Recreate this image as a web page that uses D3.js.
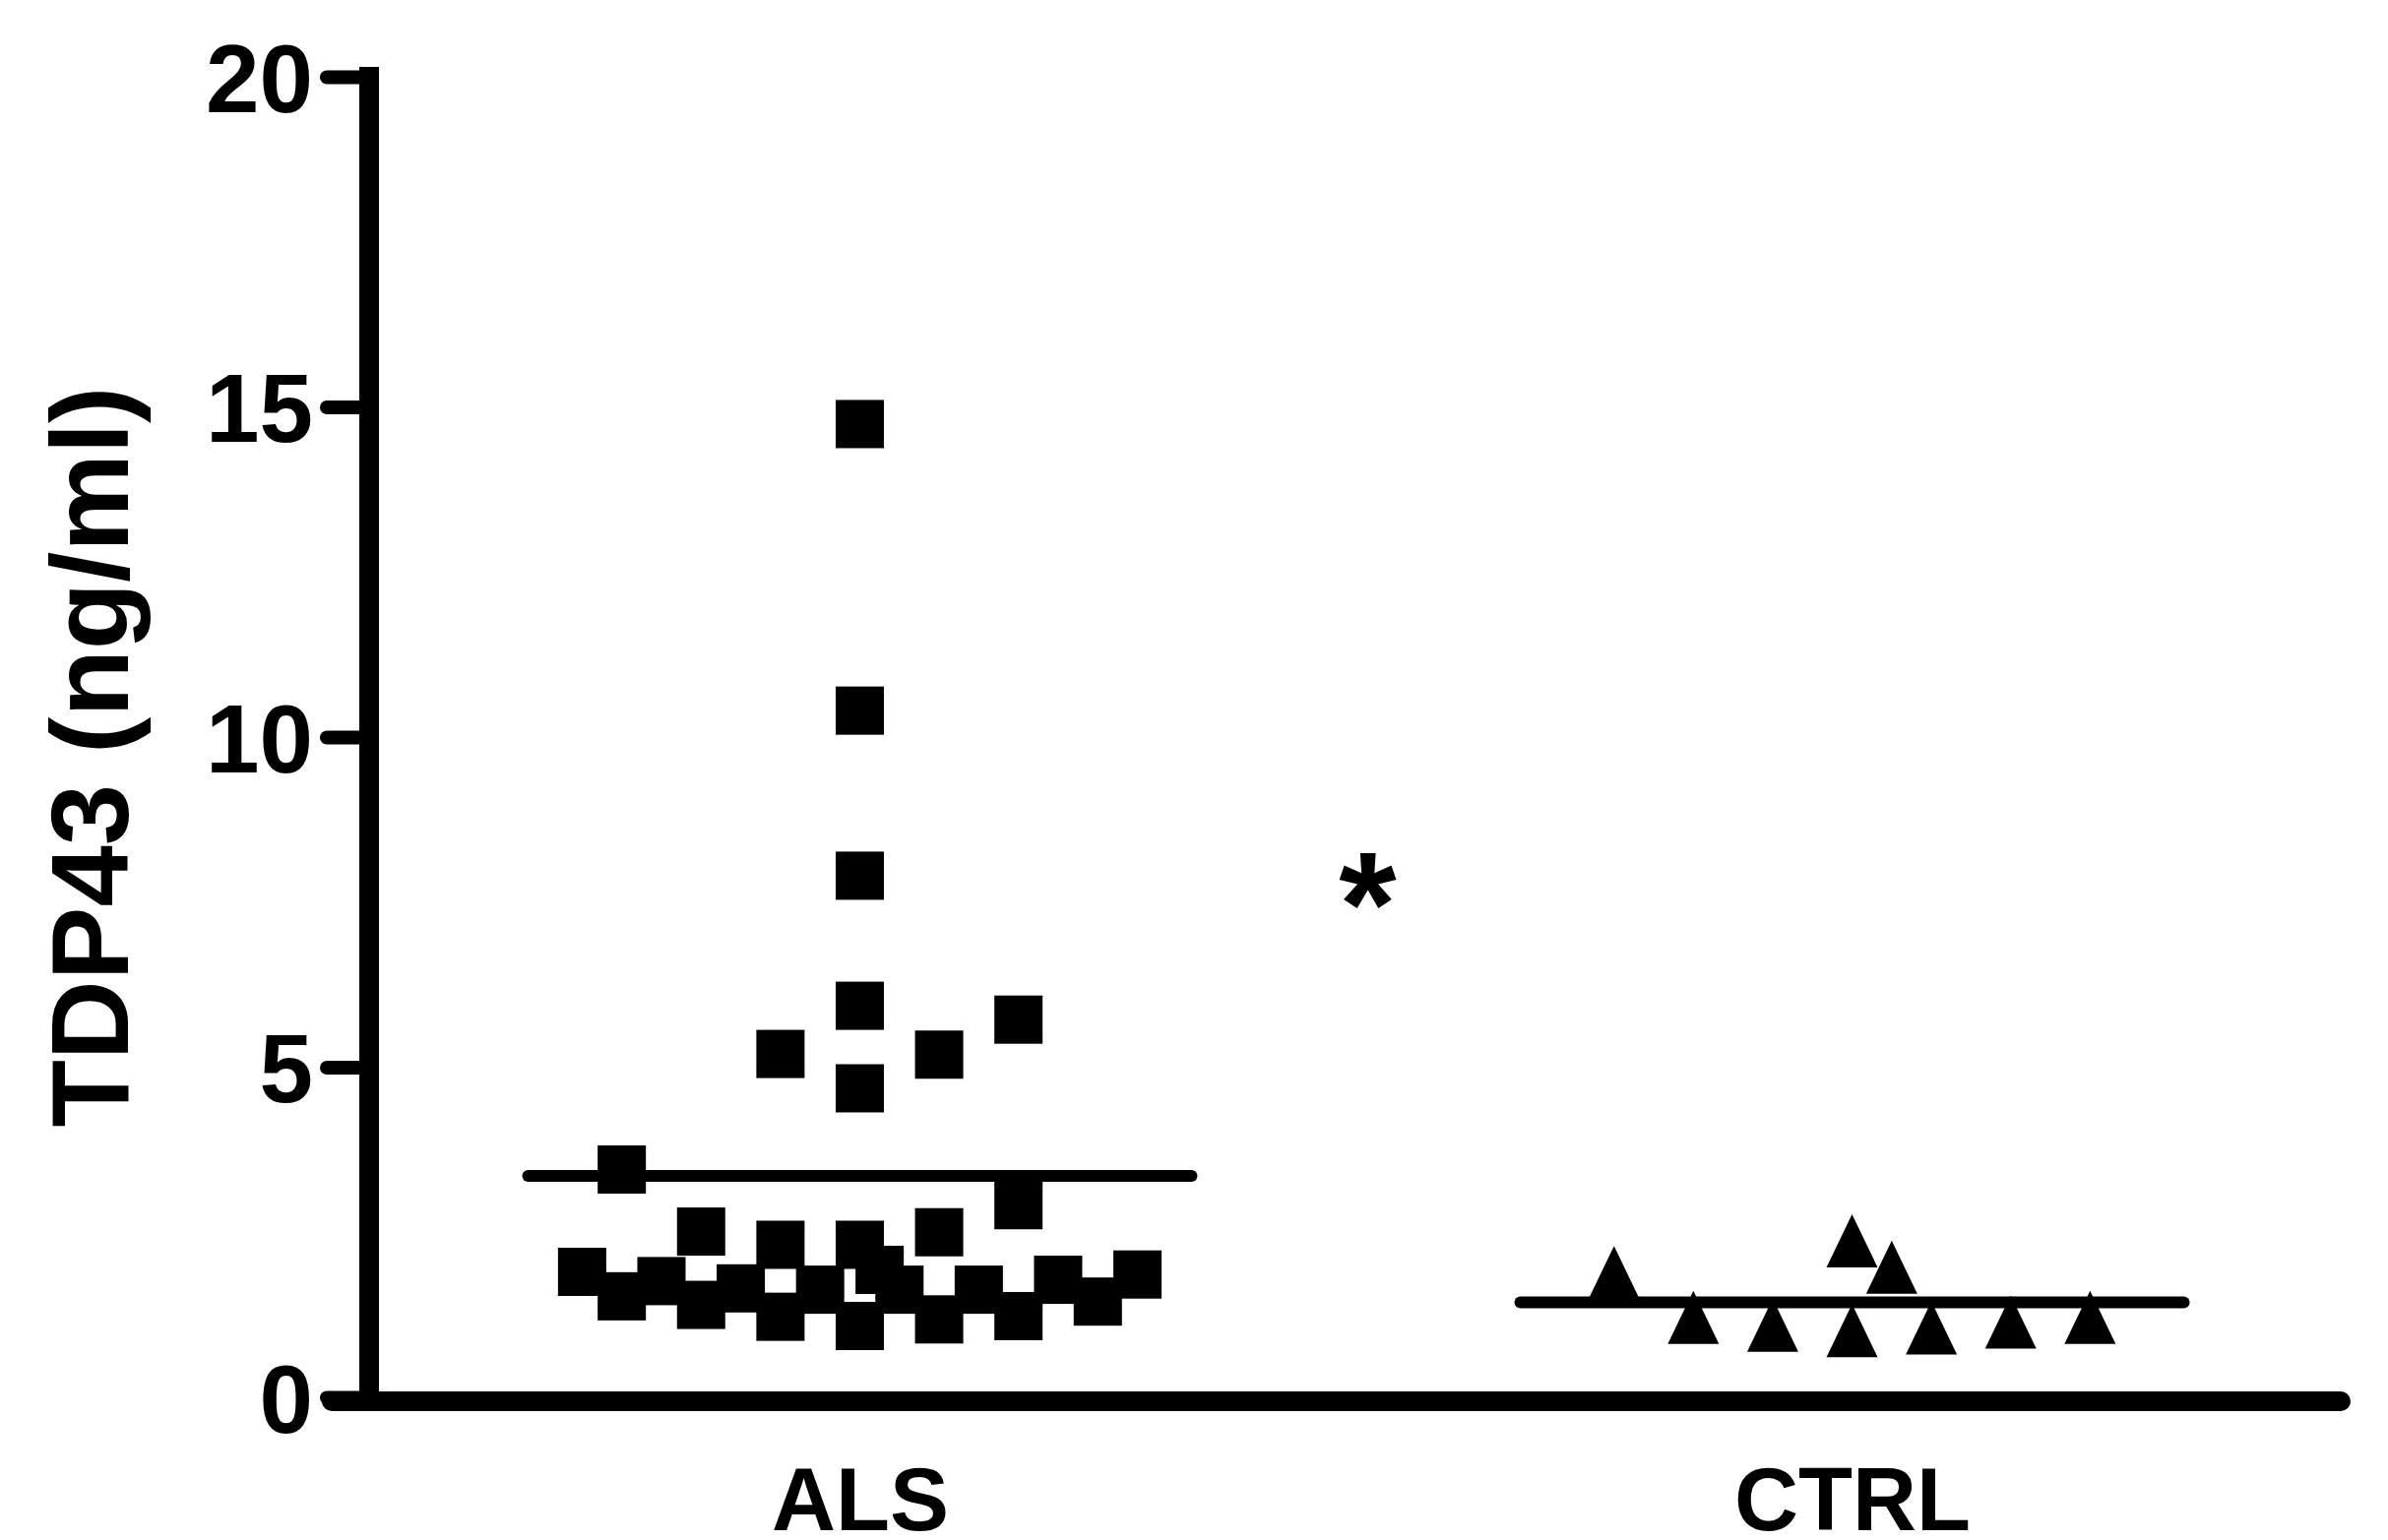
<!DOCTYPE html>
<html>
<head>
<meta charset="utf-8">
<script src="https://cdn.jsdelivr.net/npm/d3@7"></script>
<style>
  body { margin: 0; background: #fff; }
  svg { display: block; }
  text { font-family: "Liberation Sans", Arial, sans-serif; font-weight: bold; fill: #000; }
</style>
</head>
<body>
<div id="chart"></div>
<script>
// groups on the x axis
const groups = ['ALS', 'CTRL'];

// TDP43 values (ng/ml), with the column-scatter slot of each point
const alsValues = [14.74, 10.40, 7.90, 5.93, 4.68, 5.20, 5.19, 5.72, 3.45, 2.91,
  2.51, 2.31, 2.31, 2.50, 1.90, 1.53, 1.76, 1.40, 1.65, 1.22,
  1.63, 1.93, 1.08, 1.63, 1.18, 1.63, 1.23, 1.78, 1.45, 1.86];
const alsSlots = [0, 0, 0, 0, 0, -2, 2, 4, -6, 4,
  -4, -2, 0, 2, -7, -6, -5, -4, -3, -2,
  -1, 0.5, 0, 1, 2, 3, 4, 5, 6, 7];

const ctrlValues = [1.89, 1.21, 1.09, 2.37, 1.97, 1.01, 1.05, 1.14, 1.21];
const ctrlSlots = [-6, -4, -2, 0, 1, 0, 2, 4, 6];

const yTicks = [0, 5, 10, 15, 20];
const yTitle = 'TDP43 (ng/ml)';

// significance mark between the groups
const sigLabel = '*';
const sigValue = 7.8;

class ColumnScatter {

  constructor(_config) {
    this.config = {
      parentElement: _config.parentElement,
      containerWidth: 2426,
      containerHeight: 1565,
      axisX: 375,
      axisRight: 2380,
      yTop: 78,
      yBottom: 1420,
      slotWidth: 40.3,
      squareSize: 49,
      meanHalf: 337
    };
    this.initVis();
  }

  initVis() {
    let vis = this;
    const c = vis.config;

    vis.svg = d3.select(c.parentElement).append('svg')
        .attr('width', c.containerWidth)
        .attr('height', c.containerHeight);

    vis.svg.append('rect')
        .attr('width', c.containerWidth)
        .attr('height', c.containerHeight)
        .attr('fill', '#fff');

    vis.xScale = d3.scalePoint()
        .domain(groups)
        .range([c.axisX, c.axisRight])
        .padding(0.4945);

    vis.yScale = d3.scaleLinear()
        .domain([0, 20])
        .range([c.yBottom, c.yTop]);

    vis.slotScale = d3.scaleLinear()
        .domain([-1, 1])
        .range([-c.slotWidth, c.slotWidth]);

    vis.data = [
      {group: 'ALS', shape: 'square', points: alsValues.map((v, i) => ({v, slot: alsSlots[i]}))},
      {group: 'CTRL', shape: 'triangle', points: ctrlValues.map((v, i) => ({v, slot: ctrlSlots[i]}))}
    ];

    vis.renderVis();
  }

  renderVis() {
    let vis = this;
    const c = vis.config;

    // y axis
    const yAxis = d3.axisLeft(vis.yScale)
        .tickValues(yTicks)
        .tickSize(43)
        .tickSizeOuter(0)
        .tickPadding(16);

    const yAxisG = vis.svg.append('g')
        .attr('transform', `translate(${c.axisX},0)`)
        .call(yAxis)
        .call(g => g.select('.domain').remove());

    yAxisG.selectAll('.tick line')
        .attr('stroke', '#000')
        .attr('stroke-width', 14)
        .attr('stroke-linecap', 'round');

    yAxisG.selectAll('.tick text')
        .attr('x', -57)
        .attr('dy', '0.36em')
        .style('font-size', '98px')
        .style('font-family', '"Liberation Sans", Arial, sans-serif')
        .style('font-weight', 'bold');

    vis.svg.append('line')
        .attr('x1', c.axisX).attr('x2', c.axisX)
        .attr('y1', vis.yScale(20)).attr('y2', vis.yScale(0))
        .attr('stroke', '#000')
        .attr('stroke-width', 20)
        .attr('stroke-linecap', 'square');

    // x axis
    const xAxisY = vis.yScale(0) + 4;
    vis.svg.append('line')
        .attr('x1', c.axisX - 38).attr('x2', c.axisRight - 2)
        .attr('y1', xAxisY).attr('y2', xAxisY)
        .attr('stroke', '#000')
        .attr('stroke-width', 20)
        .attr('stroke-linecap', 'round');

    const xAxis = d3.axisBottom(vis.xScale).tickSize(0);
    vis.svg.append('g')
        .attr('transform', `translate(0,${xAxisY})`)
        .call(xAxis)
        .call(g => g.select('.domain').remove())
        .selectAll('.tick text')
        .attr('y', 131)
        .attr('dy', 0)
        .style('font-size', '90px')
        .style('font-family', '"Liberation Sans", Arial, sans-serif')
        .style('font-weight', 'bold');

    // y axis title
    vis.svg.append('text')
        .attr('transform', `translate(130,${vis.yScale(9.7)}) rotate(-90)`)
        .attr('text-anchor', 'middle')
        .style('font-size', '112px')
        .text(yTitle);

    // points
    const half = c.squareSize / 2;
    const tri = 'M0,-27L26,27L-26,27Z';

    const groupG = vis.svg.selectAll('.group')
        .data(vis.data)
      .join('g')
        .attr('class', 'group')
        .attr('transform', d => `translate(${vis.xScale(d.group)},0)`);

    groupG.filter(d => d.shape === 'square').selectAll('.point')
        .data(d => d.points)
      .join('rect')
        .attr('class', 'point')
        .attr('x', d => vis.slotScale(d.slot) - half)
        .attr('y', d => vis.yScale(d.v) - half)
        .attr('width', c.squareSize)
        .attr('height', c.squareSize)
        .attr('fill', '#000');

    groupG.filter(d => d.shape === 'triangle').selectAll('.point')
        .data(d => d.points)
      .join('path')
        .attr('class', 'point')
        .attr('d', tri)
        .attr('transform', d => `translate(${vis.slotScale(d.slot)},${vis.yScale(d.v)})`)
        .attr('fill', '#000');

    // mean lines
    groupG.append('line')
        .attr('x1', -c.meanHalf).attr('x2', c.meanHalf)
        .attr('y1', d => vis.yScale(d3.mean(d.points, p => p.v)))
        .attr('y2', d => vis.yScale(d3.mean(d.points, p => p.v)))
        .attr('stroke', '#000')
        .attr('stroke-width', 12)
        .attr('stroke-linecap', 'round');

    // significance asterisk
    const midX = (vis.xScale(groups[0]) + vis.xScale(groups[1])) / 2 + 12;
    vis.svg.append('text')
        .attr('x', midX)
        .attr('y', vis.yScale(sigValue) + 74)
        .attr('text-anchor', 'middle')
        .style('font-size', '150px')
        .text(sigLabel);
  }
}

const chart = new ColumnScatter({parentElement: '#chart'});
</script>
</body>
</html>
